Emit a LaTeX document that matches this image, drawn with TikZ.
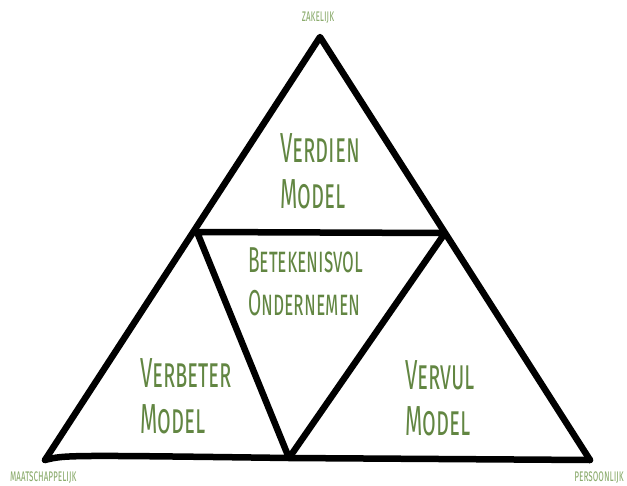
\documentclass[tikz,border=0pt]{standalone}
\usepackage{fontspec}
\setmainfont{Fira Sans}
\usepackage{graphicx}
\usepackage{xcolor}
\usetikzlibrary{positioning,calc}
\definecolor{leaf}{RGB}{98,134,66}
\definecolor{leaflight}{RGB}{140,172,110}
\newcommand{\smal}[1]{\scalebox{0.53}[1]{#1}}
\tikzset{
	edge/.style={line width=6.5pt,line cap=round,line join=round,black},
	model/.style={inner sep=0pt,align=left,text=leaf,font=\scshape\fontsize{42}{46}\selectfont},
	corner/.style={inner sep=0pt,text=leaflight,font=\scshape\fontsize{17}{17}\selectfont}
}
\begin{document}
\begin{tikzpicture}[x=1pt,y=-1pt]
			\useasboundingbox (0,0) rectangle (627,485);
			\coordinate (top) at (320,37);
			\coordinate (bl) at (45,460);
			\coordinate (br) at (590,460);
			\coordinate (il) at (197,232);
			\coordinate (ir) at (445,233);
			\coordinate (mid) at (289,458);
			% outer triangle
			\draw[edge] (bl)--(top)--(br);
			\draw[edge] (bl) .. controls ($(bl)+(20,-5)$) .. (mid) -- (br);
			% inner triangle
			\draw[edge] (il)--(ir)--(mid)--cycle;
			\node[model,anchor=north west] (verdien) at (280,133) {\smal{Verdien}\\\smal{Model}};
			\node[model,anchor=north west,font=\scshape\fontsize{36}{43}\selectfont] (betekenis) at (248,247) {\smal{Betekenisvol}\\\smal{Ondernemen}};
			\node[model,anchor=north west] (verbeter) at (140,358) {\smal{Verbeter}\\\smal{Model}};
			\node[model,anchor=north west] (vervul) at (405,360) {\smal{Vervul}\\\smal{Model}};
			\node[corner] (zakelijk) at (318,18) {\smal{zakelijk}};
			\node[corner,anchor=west] (maatsch) at (10,478) {\smal{maatschappelijk}};
			\node[corner,anchor=east] (persoonlijk) at (624,478) {\smal{persoonlijk}};
\end{tikzpicture}
\end{document}
